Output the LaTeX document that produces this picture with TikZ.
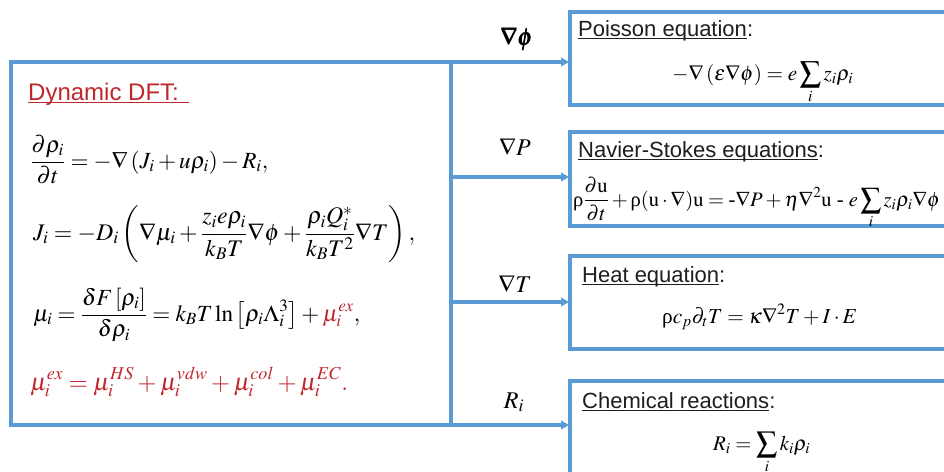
\documentclass[tikz,border=0pt]{standalone}
\usepackage{amsmath}
\usepackage{mathptmx}
\usepackage[no-math]{fontspec}
\setmainfont{Liberation Serif}
\setsansfont{Liberation Sans}
\usepackage{graphicx}
\usetikzlibrary{arrows.meta}
\definecolor{lblue}{RGB}{91,155,213}
\definecolor{dred}{RGB}{192,39,45}
\definecolor{tgray}{RGB}{30,30,30}
\newsavebox\ulbox
\newcommand\myul[2][0pt]{\sbox\ulbox{#2}\rlap{\rule[-3.2pt]{\dimexpr\wd\ulbox+#1\relax}{1pt}}\usebox\ulbox}
\newcommand\urho{\text{\rmfamily ρ}}
\begin{document}
\begin{tikzpicture}[x=1pt,y=-1pt,
  box/.style={draw=lblue,line width=3.2pt,inner sep=0pt,outer sep=0pt},
  conn/.style={draw=lblue,line width=3.2pt,-{Triangle[length=8pt,width=8.5pt]},shorten >=1pt},
  ttl/.style={anchor=base west,inner sep=0pt,font=\sffamily\fontsize{22}{26}\selectfont,text=tgray},
  eq/.style={anchor=base west,inner sep=0pt,font=\fontsize{20}{24}\selectfont},
  lab/.style={anchor=base,inner sep=0pt,font=\fontsize{24}{28}\selectfont}]
\clip (0,0) rectangle (944,471);
\fill[white] (0,0) rectangle (944,471);
% boxes
\node[box,minimum width=440pt,minimum height=363pt,anchor=north west] (dft) at (11,62) {};
\node[box,minimum width=440pt,minimum height=93pt,anchor=north west] (pois) at (570,12) {};
\node[box,minimum width=440pt,minimum height=94pt,anchor=north west] (ns) at (570,132) {};
\node[box,minimum width=440pt,minimum height=93pt,anchor=north west] (heat) at (570,256) {};
\node[box,minimum width=440pt,minimum height=93pt,anchor=north west] (chem) at (570,381) {};
% connectors
\coordinate (bP) at (451,177);
\coordinate (bT) at (451,302);
\draw[conn] (dft.north east) -- (dft.north east -| pois.west);
\draw[conn] (bP) -- (bP -| ns.west);
\draw[conn] (bT) -- (bT -| heat.west);
\draw[conn] (dft.south east) -- (dft.south east -| chem.west);
% labels
\node[lab] (lphi) at (517,45) {\pmb{$\nabla\phi$}};
\node[lab] (lP) at (515,155) {$\nabla P$};
\node[lab] (lT) at (515,292) {$\nabla T$};
\node[lab] (lR) at (514,408) {$R_i$};
% titles
\node[ttl,text=dred,font=\sffamily\fontsize{24}{28}\selectfont] (tdft) at (28,100) {\myul[10pt]{Dynamic DFT:}};
\node[ttl] (tpois) at (578,36) {\myul{Poisson equation}:};
\node[ttl] (tns) at (578,157) {\myul{Navier-Stokes equations}:};
\node[ttl] (theat) at (582,282) {\myul{Heat equation}:};
\node[ttl] (tchem) at (582,408) {\myul{Chemical reactions}:};
% left equations
\node[eq] (e1) at (30,168) {\resizebox{238pt}{!}{$\displaystyle \frac{\partial\rho_i}{\partial t} = -\nabla\left(J_i + u\rho_i\right) - R_i,$}};
\node[eq] (e2) at (33,240) {\resizebox{382pt}{!}{$\displaystyle J_i = -D_i\left(\nabla\mu_i + \frac{z_i e\rho_i}{k_BT}\nabla\phi + \frac{\rho_i Q_i^*}{k_BT^2}\nabla T\right),$}};
\node[eq] (e3) at (33,321) {\resizebox{327pt}{!}{$\displaystyle \mu_i = \frac{\delta F\left[\rho_i\right]}{\delta\rho_i} = k_BT\ln\left[\rho_i\Lambda_i^3\right] + \textcolor{dred}{\mu_i^{ex}},$}};
\node[eq,text=dred] (e4) at (30,390) {\resizebox{318pt}{!}{$\displaystyle \mu_i^{ex} = \mu_i^{HS} + \mu_i^{vdw} + \mu_i^{col} + \mu_i^{EC}.$}};
% right equations
\node[eq] (ep) at (672,80) {\resizebox{181pt}{!}{$\displaystyle -\nabla\left(\varepsilon\nabla\phi\right) = e\sum_i z_i\rho_i$}};
\node[eq] (ens) at (573,206) {\resizebox{367pt}{!}{$\displaystyle \urho\frac{\partial\mathrm{u}}{\partial t} + \urho(\mathrm{u}\cdot\nabla)\mathrm{u} = \text{-}\nabla P + \eta\nabla^2\mathrm{u}\ \text{-}\ e\sum_i z_i\rho_i\nabla\phi$}};
\node[eq] (eh) at (662,323) {\resizebox{195pt}{!}{$\displaystyle \urho c_p\partial_t T = \kappa\nabla^2 T + I\cdot E$}};
\node[eq] (ec) at (713,450) {\resizebox{97pt}{!}{$\displaystyle R_i = \sum_i k_i\rho_i$}};
\end{tikzpicture}
\end{document}
